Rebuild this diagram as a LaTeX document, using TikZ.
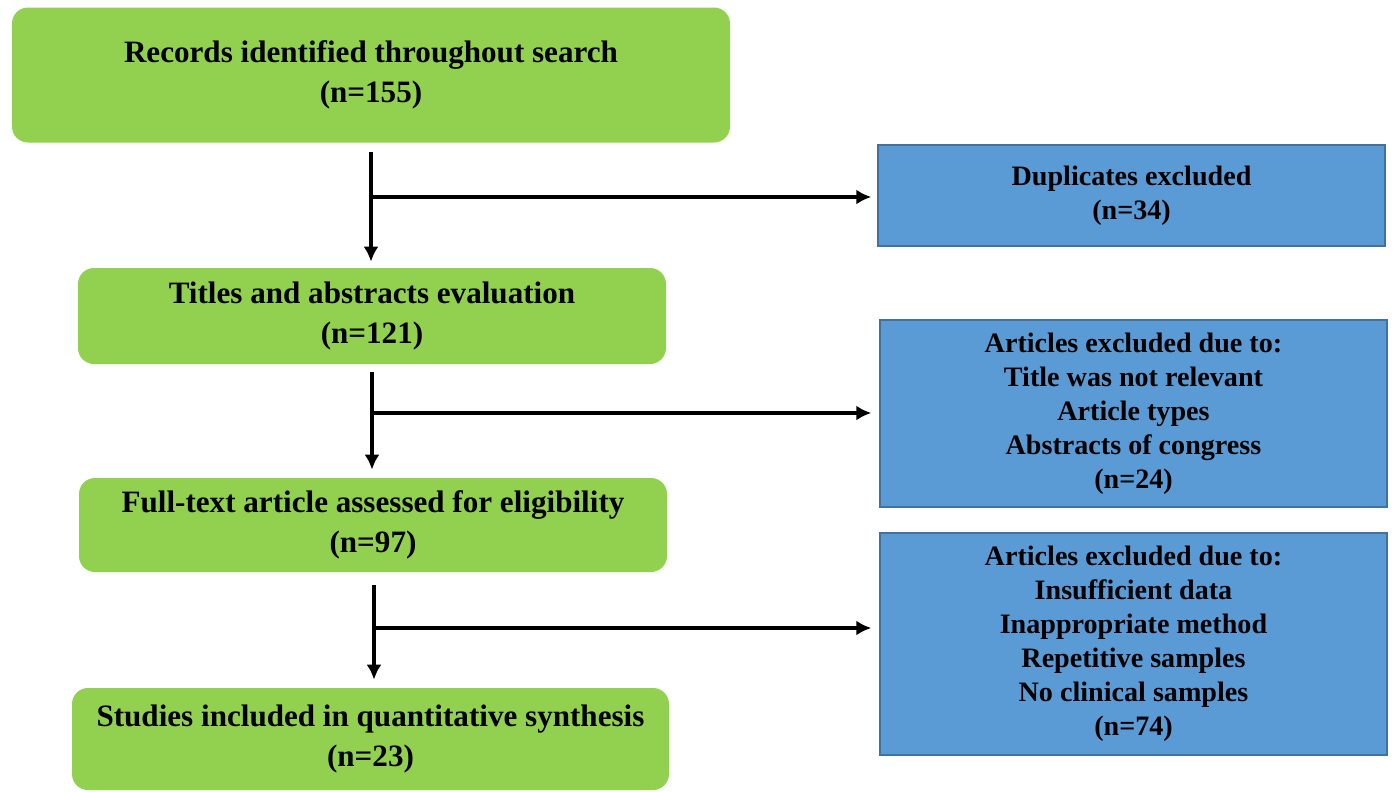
\documentclass[tikz,border=0pt]{standalone}
\usepackage{fontspec}
\setmainfont{Liberation Serif}
\usetikzlibrary{arrows.meta}

\definecolor{boxgreen}{HTML}{92D050}
\definecolor{boxblue}{HTML}{5B9BD5}
\definecolor{blueline}{HTML}{41719C}

\begin{document}
\begin{tikzpicture}
	\tikzstyle{greenbox} = [rectangle, rounded corners=0.32cm, fill=boxgreen, align=center, inner sep=0pt, font=\bfseries\fontsize{17.7}{22.7}\selectfont]
	\tikzstyle{bluebox} = [rectangle, fill=boxblue, draw=blueline, line width=0.8pt, align=center, inner sep=0pt, font=\bfseries\fontsize{16}{19.3}\selectfont]
	\tikzstyle{flow} = [line width=2.3pt, -{Latex[length=0.3cm, width=0.3cm]}]
	\useasboundingbox (0,0) rectangle (27.9,-15.84);
	\node[greenbox, minimum width=14.36cm, minimum height=2.7cm] (rec) at (7.42, -1.5) {Records identified throughout search\\(n=155)};
	\node[greenbox, minimum width=11.76cm, minimum height=1.92cm] (tit) at (7.44, -6.32) {Titles and abstracts evaluation\\(n=121)};
	\node[greenbox, minimum width=11.76cm, minimum height=1.88cm] (ful) at (7.46, -10.5) {Full-text article assessed for eligibility\\(n=97)};
	\node[greenbox, minimum width=11.94cm, minimum height=2.04cm] (stu) at (7.41, -14.78) {Studies included in quantitative synthesis\\(n=23)};
	\node[bluebox, minimum width=10.14cm, minimum height=2.02cm] (dup) at (22.63, -3.91) {Duplicates excluded\\(n=34)};
	\node[bluebox, minimum width=10.14cm, minimum height=3.74cm] (ex1) at (22.67, -8.27) {Articles excluded due to:\\Title was not relevant\\Article types\\Abstracts of congress\\(n=24)};
	\node[bluebox, minimum width=10.14cm, minimum height=4.44cm] (ex2) at (22.67, -12.88) {Articles excluded due to:\\Insufficient data\\Inappropriate method\\Repetitive samples\\No clinical samples\\(n=74)};
	\coordinate (s1) at (7.42, -3.04);
	\coordinate (b1) at (7.42, -3.94);
	\coordinate (s2) at (7.44, -7.44);
	\coordinate (b2) at (7.44, -8.26);
	\coordinate (s3) at (7.48, -11.7);
	\coordinate (b3) at (7.48, -12.56);
	\draw [flow, shorten >=0.12cm] (s1) -- (s1 |- tit.north);
	\draw [flow, shorten >=0.12cm] (b1) -- (dup.west |- b1);
	\draw [flow, shorten >=0.16cm] (s2) -- (s2 |- ful.north);
	\draw [flow, shorten >=0.16cm] (b2) -- (ex1.west |- b2);
	\draw [flow, shorten >=0.16cm] (s3) -- (s3 |- stu.north);
	\draw [flow, shorten >=0.16cm] (b3) -- (ex2.west |- b3);
\end{tikzpicture}
\end{document}
